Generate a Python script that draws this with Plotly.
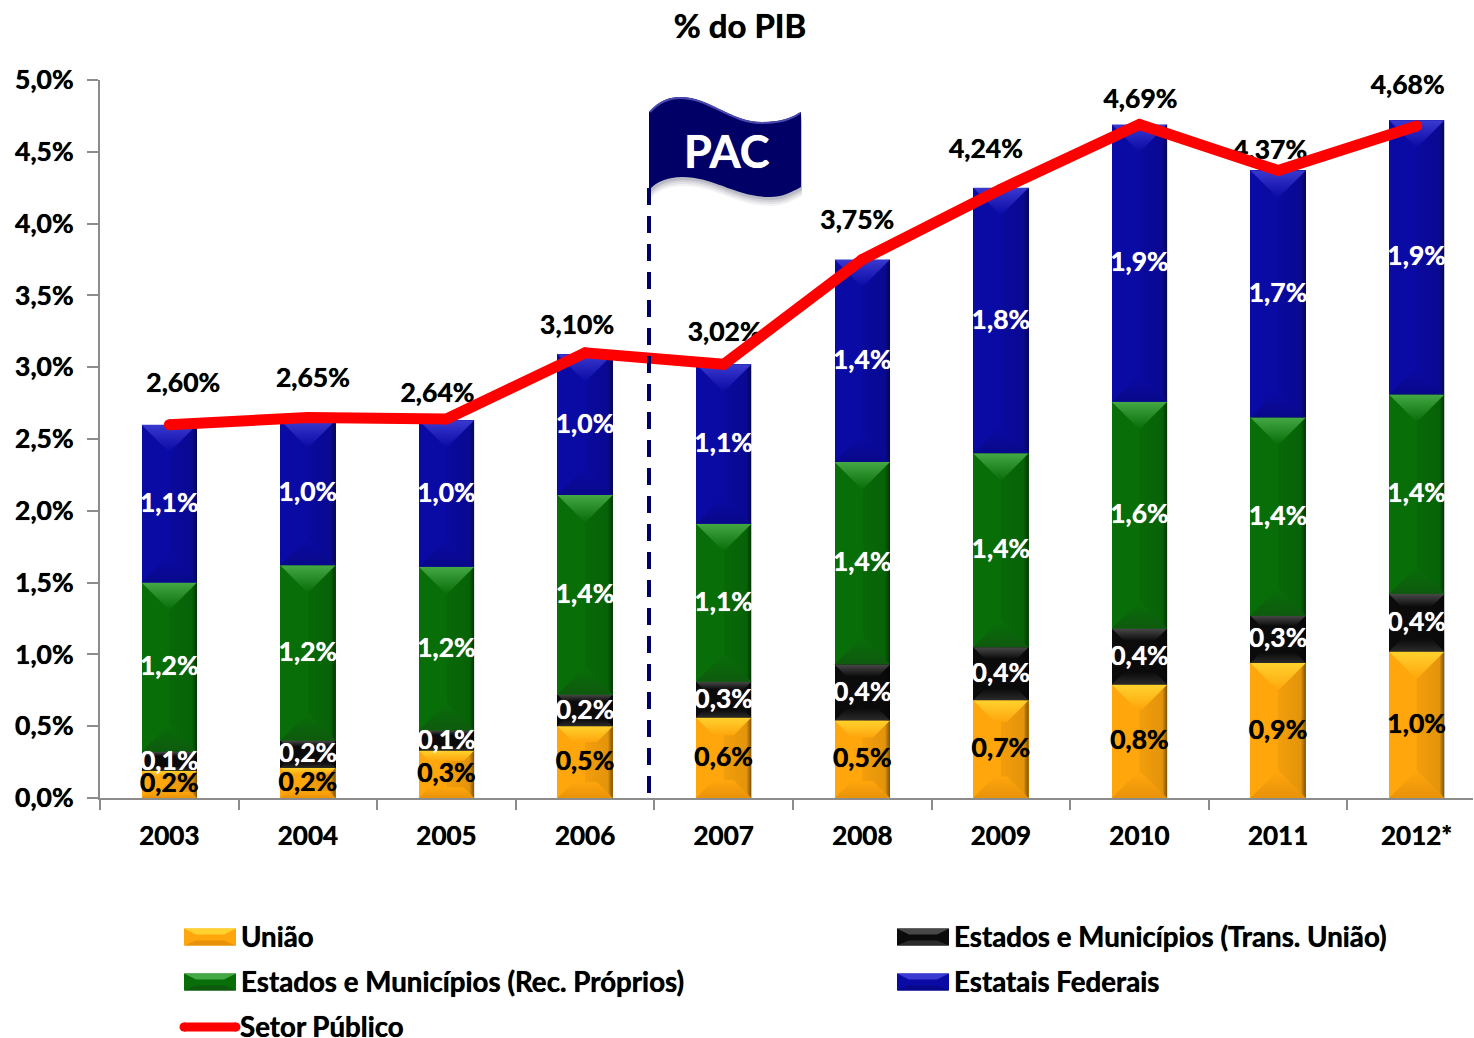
import plotly.graph_objects as go

anos = ["2003", "2004", "2005", "2006", "2007", "2008", "2009", "2010", "2011", "2012*"]
uniao = [0.19, 0.21, 0.33, 0.50, 0.56, 0.54, 0.68, 0.79, 0.94, 1.02]
trans = [0.13, 0.19, 0.14, 0.22, 0.25, 0.39, 0.37, 0.39, 0.33, 0.40]
proprios = [1.18, 1.22, 1.14, 1.39, 1.10, 1.41, 1.35, 1.58, 1.38, 1.39]
estatais = [1.10, 1.01, 1.02, 0.98, 1.11, 1.41, 1.85, 1.93, 1.72, 1.91]
setor = [2.60, 2.65, 2.64, 3.10, 3.02, 3.75, 4.24, 4.69, 4.37, 4.68]
rot_uniao = ["0,2%", "0,2%", "0,3%", "0,5%", "0,6%", "0,5%", "0,7%", "0,8%", "0,9%", "1,0%"]
rot_trans = ["0,1%", "0,2%", "0,1%", "0,2%", "0,3%", "0,4%", "0,4%", "0,4%", "0,3%", "0,4%"]
rot_proprios = ["1,2%", "1,2%", "1,2%", "1,4%", "1,1%", "1,4%", "1,4%", "1,6%", "1,4%", "1,4%"]
rot_estatais = ["1,1%", "1,0%", "1,0%", "1,0%", "1,1%", "1,4%", "1,8%", "1,9%", "1,7%", "1,9%"]
rot_setor = ["2,60%", "2,65%", "2,64%", "3,10%", "3,02%", "3,75%", "4,24%", "4,69%", "4,37%", "4,68%"]
eixo_y = ["0,0%", "0,5%", "1,0%", "1,5%", "2,0%", "2,5%", "3,0%", "3,5%", "4,0%", "4,5%", "5,0%"]
# label offsets from the line's points, in pixels
off_x = [14, 5, -9, -8, 1, -5, -15, 1, -8, -9]
off_y = [39, 37, 24, 25, 30, 37, 38, 23, 18, 39]

W, H = 1474, 1038
L, R, T, B = 100, 1473, 80, 798
STEP = 138.6
PXY = (B - T) / 5.0
FONT = "Lato"
HW = 0.2
x = list(range(len(anos)))

def tf(size, color, blur="0.7px"):
    return dict(family=FONT, size=size, color=color, weight=700, shadow=f"0 0 {blur} {color}")

series = [
    dict(name="União", v=uniao, lab=rot_uniao, base="#FFA60C", top="#FFD22E", bot="#E8920A", tc="black"),
    dict(name="Estados e Municípios (Trans. União)", v=trans, lab=rot_trans, base="#0B0B0B", top="#484848", bot="#2A2A2A", tc="white"),
    dict(name="Estados e Municípios (Rec. Próprios)", v=proprios, lab=rot_proprios, base="#086E08", top="#44A844", bot="#0E5A0E", tc="white"),
    dict(name="Estatais Federais", v=estatais, lab=rot_estatais, base="#0A0AA5", top="#3A3AD0", bot="#08088A", tc="white"),
]

fig = go.Figure()
for s in series:
    fig.add_trace(go.Bar(x=x, y=s["v"], name=s["name"], width=2 * HW, marker=dict(color=s["base"], line=dict(width=0))))

def poly(xs, ys, gtype, c0, c1):
    return go.Scatter(x=xs, y=ys, mode="none", fill="toself", hoverinfo="skip", showlegend=False,
                      fillgradient=dict(type=gtype, colorscale=[[0, c0], [1, c1]]))

base = [0.0] * len(x)
label_traces = []
TXT_SHIFT = -1.5 / PXY
for s in series:
    centers = []
    for i in x:
        v = s["v"][i]
        y0, y1 = base[i], base[i] + v
        centers.append((y0 + y1) / 2 + TXT_SHIFT)
        d_px = min(27.0, v * PXY * 0.22)
        dy = d_px / PXY
        dx = d_px / STEP
        xl, xr = i - HW, i + HW
        # right half darkens toward the outer edge
        fig.add_trace(poly([i, xr, xr, i, i], [y0, y0, y1, y1, y0], "horizontal", "rgba(0,0,0,0.05)", "rgba(0,0,0,0.12)"))
        fig.add_trace(poly([xr - 5 / STEP, xr, xr, xr - 5 / STEP, xr - 5 / STEP], [y0, y0, y1, y1, y0], "horizontal", "rgba(0,0,0,0)", "rgba(0,0,0,0.45)"))
        # bevels: bright at the edge, fading into the bar colour at the tip
        fig.add_trace(poly([xl, xr, xr - dx, xl + dx, xl], [y1, y1, y1 - dy, y1 - dy, y1], "vertical", s["base"], s["top"]))
        fig.add_trace(poly([xl, xr, xr - dx, xl + dx, xl], [y0, y0, y0 + dy, y0 + dy, y0], "vertical", s["bot"], s["base"]))
        base[i] = y1
    label_traces.append(go.Scatter(x=x, y=centers, mode="text", text=s["lab"], textposition="middle center",
                                   textfont=tf(26.5, s["tc"]), hoverinfo="skip", showlegend=False, cliponaxis=False))
for t in label_traces:
    fig.add_trace(t)

fig.add_trace(go.Scatter(x=[i + dx / STEP for i, dx in zip(x, off_x)], y=[v + dy / PXY for v, dy in zip(setor, off_y)],
                         mode="text", text=rot_setor, textposition="middle center", textfont=tf(26.5, "black"),
                         hoverinfo="skip", showlegend=False, cliponaxis=False))
fig.add_trace(go.Scatter(x=x, y=setor, name="Setor Público", mode="lines+markers",
                         line=dict(color="#FF0000", width=11), marker=dict(color="#FF0000", size=11),
                         cliponaxis=False))

def px(p):
    return (p - L) / (R - L)
def py(p):
    return (B - p) / (B - T)
def path(cmds):
    out = []
    for c in cmds:
        if isinstance(c, str):
            out.append(c)
        else:
            out.append(f"{px(c[0]):.5f},{py(c[1]):.5f}")
    return " ".join(out)

shapes = []
def paper(**kw):
    shapes.append(dict(xref="paper", yref="paper", **kw))

# PAC pole and flag
shapes.append(dict(type="line", xref="paper", yref="paper", x0=px(649), x1=px(649), y0=py(188), y1=py(796),
                   line=dict(color="#000066", width=4, dash="17px,11px"), layer="above"))
def flag(dx=0, dy=0):
    P = lambda a, b: (a + dx, b + dy)
    return path(["M", P(649, 112), "C", P(660, 100), P(670, 97), P(680, 97), "C", P(710, 97), P(730, 122), P(762, 122),
                 "C", P(780, 122), P(792, 118), P(801, 112), "L", P(801, 187), "C", P(790, 193), P(782, 197), P(770, 197),
                 "C", P(735, 197), P(715, 177), P(682, 177), "C", P(668, 177), P(656, 182), P(649, 190), "Z"])
for off, a in ((9, 0.05), (7, 0.06), (5, 0.08), (3, 0.10)):
    paper(type="path", path=flag(1, off), fillcolor=f"rgba(0,0,40,{a})", line=dict(width=0), layer="above")
paper(type="path", path=flag(), fillcolor="#000066", line=dict(width=0), layer="above")
paper(type="path", path=path(["M", (650, 112), "C", (660, 101), (670, 98), (680, 98), "C", (710, 98), (730, 123), (762, 123),
                              "C", (780, 123), (792, 119), (800, 113)]),
      line=dict(color="#4A4AB0", width=2), layer="above")

# legend
def swatch(x0, yc, s):
    w, h, d, ins = 52, 17, 5, 12
    y0, y1 = yc - h / 2, yc + h / 2
    paper(type="rect", x0=px(x0), x1=px(x0 + w), y0=py(y1), y1=py(y0), fillcolor=s["base"], line=dict(width=0), layer="above")
    paper(type="path", path=path(["M", (x0, y0), "L", (x0 + w, y0), "L", (x0 + w - ins, y0 + d + 1), "L", (x0 + ins, y0 + d + 1), "Z"]),
          fillcolor=s["top"], line=dict(width=0), layer="above")
    paper(type="path", path=path(["M", (x0, y1), "L", (x0 + w, y1), "L", (x0 + w - ins, y1 - d), "L", (x0 + ins, y1 - d), "Z"]),
          fillcolor=s["bot"], line=dict(width=0), layer="above")

ROWS = [936, 981, 1026]
SW = [937, 982]
annots = []
def legend_text(xp, yp, text):
    annots.append(dict(xref="paper", yref="paper", x=px(xp), y=py(yp), xanchor="left", yanchor="middle", showarrow=False,
                       text=text, font=tf(27.7, "black")))
for xp, row, idx in [(184, 0, 0), (897, 0, 1), (184, 1, 2), (897, 1, 3)]:
    swatch(xp, SW[row], series[idx])
    legend_text(xp + 54.5, ROWS[row], series[idx]["name"])
paper(type="line", x0=px(184), x1=px(236), y0=py(1027), y1=py(1027), line=dict(color="#FF0000", width=9), layer="above")
for cx in (184, 236):
    paper(type="circle", x0=px(cx - 4.5), x1=px(cx + 4.5), y0=py(1031.5), y1=py(1022.5), fillcolor="#FF0000", line=dict(width=0), layer="above")
legend_text(238, ROWS[2], "Setor Público")
annots.append(dict(xref="paper", yref="paper", x=px(727), y=py(151), xanchor="center", yanchor="middle", showarrow=False,
                   text="PAC", font=tf(45, "white")))

fig.update_layout(
    width=W, height=H, autosize=False,
    margin=dict(l=L, r=W - R, t=T, b=H - B, pad=0),
    paper_bgcolor="white", plot_bgcolor="white",
    barmode="stack", showlegend=False, separators=", ",
    title=dict(text="% do PIB", x=740 / W, xref="container", xanchor="center", y=1 - 26 / H, yanchor="middle",
               font=tf(33, "black")),
    xaxis=dict(range=[-0.5, -0.5 + (R - L) / STEP], tickmode="array", tickvals=x, ticktext=anos, ticks="", ticklen=0,
               showgrid=False, zeroline=False, showline=True, linecolor="#8C8C8C", linewidth=2,
               ticklabelstandoff=14, tickfont=tf(26, "black"),
               minor=dict(tickmode="array", tickvals=[i - 0.5 for i in x], ticks="outside", ticklen=10, tickwidth=2, tickcolor="#8C8C8C", showgrid=False)),
    yaxis=dict(range=[0, 5], tickmode="array", tickvals=[i * 0.5 for i in range(len(eixo_y))], ticktext=eixo_y,
               ticks="outside", ticklen=11, tickwidth=2, tickcolor="#8C8C8C", showgrid=False, zeroline=False,
               showline=True, linecolor="#8C8C8C", linewidth=2, ticklabelstandoff=8, tickfont=tf(26.5, "black")),
    shapes=shapes, annotations=annots,
)

fig.write_html("out.html", config={"displayModeBar": False},
               post_script="document.body.style.margin='0';document.body.style.overflow='hidden';")
